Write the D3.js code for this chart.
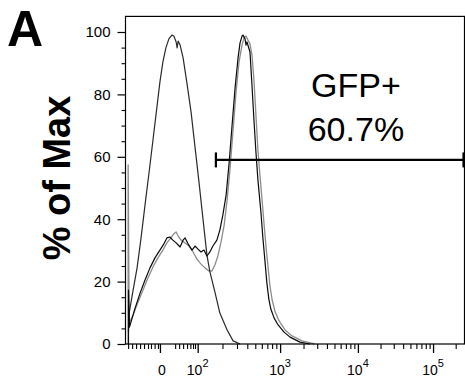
<!DOCTYPE html>
<html><head><meta charset="utf-8">
<script src="https://cdn.jsdelivr.net/npm/d3@7"></script>
<style>
body{margin:0;background:#fff}
svg{display:block}
text{font-family:"Liberation Sans",Arial,Helvetica,sans-serif;fill:#000}
</style>
</head><body>
<svg id="chart" width="465" height="383"></svg>
<script>
// Histogram data: [channel (0-1024 display bins), % of Max]
const controlHist = [[9,4.0],[11,9.9],[23,17.3],[35,24.4],[47,34.0],[59,44.6],[71,54.8],[83,65.4],[95,76.0],[104,84.0],[113,90.4],[122,94.9],[131,97.8],[140,99.0],[146,98.7],[153,96.8],[156,94.9],[159,97.1],[165,95.8],[174,91.7],[186,83.3],[198,74.4],[210,63.1],[222,51.9],[234,40.1],[246,28.5],[255,23.1],[270,16.7],[285,9.9],[307,4.5],[325,1.0],[346,0]];

const gfpBlackHist = [[9,0],[9,17.3],[12,5.4],[29,11.5],[44,16.3],[59,20.5],[74,24.4],[89,27.6],[104,30.1],[116,32.1],[125,34.0],[134,34.3],[143,33.3],[153,32.4],[165,31.1],[174,33.3],[180,34.0],[189,32.1],[201,30.1],[210,31.4],[219,30.4],[228,29.5],[237,30.1],[246,28.2],[255,29.5],[264,31.4],[276,33.3],[285,36.5],[294,41.3],[304,47.8],[313,58.0],[322,70.2],[331,82.1],[340,91.7],[346,96.5],[352,98.7],[355,99.0],[361,97.8],[364,95.8],[367,96.8],[376,93.6],[382,83.0],[388,71.8],[394,61.5],[400,52.6],[409,42.3],[415,34.0],[421,26.9],[427,19.6],[433,14.4],[439,11.2],[449,8.3],[461,6.1],[479,3.8],[497,2.2],[527,0.6],[557,0]];

const gfpGrayHist = [[8,0],[8,57.4],[11,6.7],[23,9.3],[38,13.5],[53,17.3],[68,21.2],[83,24.7],[98,27.6],[113,30.1],[125,32.4],[137,34.0],[146,35.3],[153,35.9],[159,34.6],[168,33.3],[180,32.4],[192,31.4],[204,29.5],[216,27.2],[228,25.6],[240,24.4],[252,23.4],[261,23.4],[270,25.3],[279,28.2],[288,32.4],[298,38.1],[307,46.2],[316,56.4],[325,68.6],[334,80.8],[343,90.4],[352,95.8],[358,98.1],[364,98.7],[370,97.4],[376,96.2],[382,92.6],[388,84.6],[394,73.4],[400,62.2],[406,54.2],[412,46.8],[418,39.1],[424,31.7],[430,25.3],[436,18.9],[443,14.1],[452,10.3],[464,7.4],[482,4.5],[503,2.6],[533,1.0],[572,0]];

// Axes
const yTicks = [0, 20, 40, 60, 80, 100];
const yMinorTicks = [5,10,15,25,30,35,45,50,55,65,70,75,85,90,95];
const xMajorTicks = [104, 218, 467, 702, 929];          // channels of 0, 10^2 ... 10^5
const xTickBase = ["0", "10", "10", "10", "10"];
const xTickExp  = ["", "2", "3", "4", "5"];
const xLowMinorTicks = [8,20,32,44,56,68,77,88,98,150,162,174,186,196,204,210];
const decadeMultipliers = [2,3,4,5,6,7,8,9];

// Gate
const gateRange = [273, 1021];
const gateLevel = 59.0;
const gateName = "GFP+";
const gateValue = "60.7%";
const gateLabelPos = [696, 79.2, 65.1];

const panelLabel = "A";
const yTitle = "% of Max";

const svg = d3.select("#chart");
const x = d3.scaleLinear().domain([0, 1024]).range([125.5, 464.5]);
const y = d3.scaleLinear().domain([0, 105]).range([344, 16.4]);

// log minor ticks above 10^2
const xLogMinor = [];
for (let i = 1; i < xMajorTicks.length; i++) {
  const a = xMajorTicks[i], span = (i < xMajorTicks.length - 1) ? xMajorTicks[i+1] - a : xMajorTicks[i] - xMajorTicks[i-1];
  decadeMultipliers.forEach(k => { const c = a + Math.log10(k) * span; if (c <= 1024) xLogMinor.push(c); });
}
const xMinor = xLowMinorTicks.concat(xLogMinor);

// curves
const line = d3.line().x(d => x(d[0])).y(d => y(d[1]));
const curves = [
  {data: gfpGrayHist, color: "#8c8c8c", w: 1.3},
  {data: controlHist, color: "#2a2a2a", w: 1.2},
  {data: gfpBlackHist, color: "#0a0a0a", w: 1.2}
];
svg.append("g").selectAll("path").data(curves).join("path")
  .attr("d", d => line(d.data)).attr("fill", "none")
  .attr("stroke", d => d.color).attr("stroke-width", d => d.w)
  .attr("stroke-linejoin", "round");

// frame
svg.append("rect")
  .attr("x", x(0)).attr("y", y(105))
  .attr("width", x(1024) - x(0)).attr("height", y(0) - y(105))
  .attr("fill", "none").attr("stroke", "#000").attr("stroke-width", 1.2);

// y axis
const yAxis = svg.append("g").attr("transform", `translate(${x(0)},0)`)
  .call(d3.axisLeft(y).tickValues(yTicks).tickSize(8).tickPadding(7));
yAxis.select(".domain").remove();
yAxis.selectAll("line").attr("stroke", "#000").attr("stroke-width", 1.2);
yAxis.selectAll("text").attr("font-size", 15).attr("font-family", "Liberation Sans, Arial, sans-serif").attr("fill", "#111");
const yMin = svg.append("g").attr("transform", `translate(${x(0)},0)`)
  .call(d3.axisLeft(y).tickValues(yMinorTicks).tickSize(4).tickFormat(""));
yMin.select(".domain").remove();
yMin.selectAll("line").attr("stroke", "#000").attr("stroke-width", 1.1);

// x axis
const xAxis = svg.append("g").attr("transform", `translate(0,${y(0)})`)
  .call(d3.axisBottom(x).tickValues(xMajorTicks).tickSize(9).tickFormat(""));
xAxis.select(".domain").remove();
xAxis.selectAll("line").attr("stroke", "#000").attr("stroke-width", 1.3);
const xMin = svg.append("g").attr("transform", `translate(0,${y(0)})`)
  .call(d3.axisBottom(x).tickValues(xMinor).tickSize(5).tickFormat(""));
xMin.select(".domain").remove();
xMin.selectAll("line").attr("stroke", "#000").attr("stroke-width", 1.1);

const xl = svg.append("g").selectAll("text").data(xMajorTicks).join("text")
  .attr("x", d => x(d)).attr("y", 375).attr("text-anchor", "middle")
  .attr("dx", (d, i) => i === 0 ? 2 : 0)
  .attr("font-size", 14).attr("fill", "#111");
xl.append("tspan").text((d, i) => xTickBase[i]);
xl.append("tspan").attr("dy", -8).attr("font-size", 11).text((d, i) => xTickExp[i]);

// gate
const g = svg.append("g").attr("stroke", "#000").attr("stroke-width", 2.2);
g.append("line").attr("x1", x(gateRange[0])).attr("x2", x(gateRange[1]))
  .attr("y1", y(gateLevel)).attr("y2", y(gateLevel));
gateRange.forEach(c => g.append("line").attr("x1", x(c)).attr("x2", x(c))
  .attr("y1", y(gateLevel) - 7.5).attr("y2", y(gateLevel) + 7.5));

svg.append("text").attr("x", x(gateLabelPos[0])).attr("y", y(gateLabelPos[1]))
  .attr("text-anchor", "middle").attr("font-size", 34).text(gateName);
svg.append("text").attr("x", x(gateLabelPos[0])).attr("y", y(gateLabelPos[2]))
  .attr("text-anchor", "middle").attr("font-size", 34).text(gateValue);

// titles
svg.append("text").attr("transform", "translate(70,178) rotate(-90)")
  .attr("text-anchor", "middle").attr("font-size", 38).attr("font-weight", "bold").text(yTitle);
svg.append("text").attr("x", 7).attr("y", 46).attr("font-size", 50).attr("font-weight", "bold").text(panelLabel);
</script>
</body></html>
